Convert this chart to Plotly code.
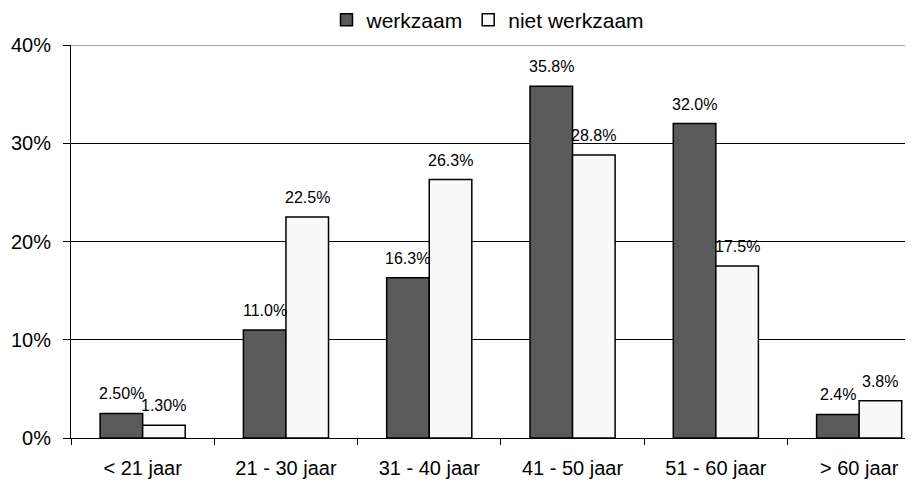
import plotly.graph_objects as go

categories = ["< 21 jaar", "21 - 30 jaar", "31 - 40 jaar", "41 - 50 jaar", "51 - 60 jaar", "> 60 jaar"]
werkzaam = [2.5, 11.0, 16.3, 35.8, 32.0, 2.4]
niet_werkzaam = [1.3, 22.5, 26.3, 28.8, 17.5, 3.8]
werkzaam_labels = ["2.50%", "11.0%", "16.3%", "35.8%", "32.0%", "2.4%"]
niet_labels = ["1.30%", "22.5%", "26.3%", "28.8%", "17.5%", "3.8%"]
y_ticks = [0, 10, 20, 30, 40]
y_ticklabels = ["0%", "10%", "20%", "30%", "40%"]

FONT = "Liberation Sans, Arial, sans-serif"
W, H = 910, 476  # page body has an 8px margin inside the 918x484 window

fig = go.Figure()
fig.add_trace(go.Bar(
    name="werkzaam", x=categories, y=werkzaam,
    marker=dict(color="#5a5a5a", line=dict(color="#000000", width=1.5)),
))
fig.add_trace(go.Bar(
    name="niet werkzaam", x=categories, y=niet_werkzaam,
    marker=dict(color="#f8f8f8", line=dict(color="#000000", width=1.5)),
))

# data labels above each bar
annotations = []
for cat, v, lab in zip(categories, werkzaam, werkzaam_labels):
    annotations.append(dict(x=cat, y=v, text=lab, xref="x", yref="y", showarrow=False,
                            xshift=-21.3, yanchor="bottom", yshift=9,
                            font=dict(family=FONT, size=16, color="#000000")))
for cat, v, lab in zip(categories, niet_werkzaam, niet_labels):
    annotations.append(dict(x=cat, y=v, text=lab, xref="x", yref="y", showarrow=False,
                            xshift=21.3, yanchor="bottom", yshift=9,
                            font=dict(family=FONT, size=16, color="#000000")))

fig.update_layout(
    width=W, height=H,
    margin=dict(l=63, r=13, t=37, b=46, autoexpand=False),
    paper_bgcolor="white", plot_bgcolor="white",
    barmode="group", bargap=0.406, bargroupgap=0,
    font=dict(family=FONT, size=16, color="#000000"),
    annotations=annotations,
    legend=dict(orientation="h", x=0.50, xanchor="center", y=1 - 12 / H, yanchor="middle",
                yref="container", font=dict(family=FONT, size=21),
                itemwidth=30, traceorder="normal", tracegroupgap=0),
    xaxis=dict(range=[-0.5, 5.32], showline=True, linecolor="#000000", linewidth=1,
               ticks="outside", tickson="boundaries", ticklen=6, tickcolor="#000000",
               showgrid=False, tickfont=dict(family=FONT, size=20), automargin=False,
               ticklabelstandoff=12),
    yaxis=dict(range=[0, 40], tickvals=y_ticks, ticktext=y_ticklabels,
               showline=True, linecolor="#000000", linewidth=1,
               ticks="outside", ticklen=7, tickcolor="#000000",
               showgrid=True, gridcolor="#000000", gridwidth=1,
               tickfont=dict(family=FONT, size=20), zeroline=False, automargin=False,
               ticklabelstandoff=8),
)
fig.add_hline(y=40, line=dict(color="#808080", width=1.5))
fig.write_html("out.html")
